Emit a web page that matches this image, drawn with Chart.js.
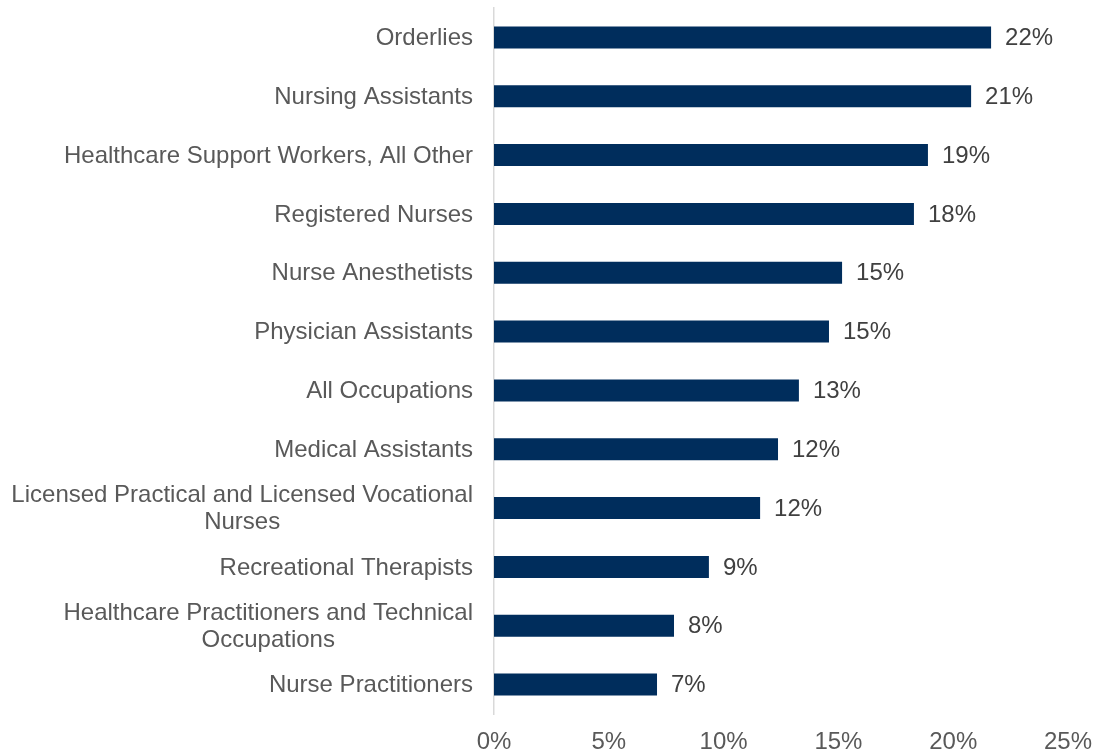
<!DOCTYPE html>
<html>
<head>
<meta charset="utf-8">
<script src="https://cdn.jsdelivr.net/npm/chart.js@4/dist/chart.umd.min.js"></script>
<style>
  html, body { margin: 0; padding: 0; background: #fff; }
  #wrap { width: 1094px; height: 755px; position: relative; }
</style>
</head>
<body>
<div id="wrap"><canvas id="chart"></canvas></div>
<script>
// Occupations (top to bottom) and projected growth in percent
const occupations = [
  'Orderlies',
  'Nursing Assistants',
  'Healthcare Support Workers, All Other',
  'Registered Nurses',
  'Nurse Anesthetists',
  'Physician Assistants',
  'All Occupations',
  'Medical Assistants',
  ['Licensed Practical and Licensed Vocational', 'Nurses'],
  'Recreational Therapists',
  ['Healthcare Practitioners and Technical', 'Occupations'],
  'Nurse Practitioners'
];
const growth = [21.65, 20.78, 18.9, 18.29, 15.16, 14.59, 13.28, 12.37, 11.59, 9.36, 7.84, 7.1];
const xTicks = [0, 5, 10, 15, 20, 25];

const BAR_COLOR = '#002d5c';
const TEXT_COLOR = '#595959';
const FONT = 'Liberation Sans, Arial, sans-serif';

// Category labels: right edge at a fixed gap from the axis,
// wrapped labels have their lines centred like in Excel
const categoryLabels = {
  id: 'categoryLabels',
  afterDraw(chart) {
    const ctx = chart.ctx;
    const yScale = chart.scales.y;
    const right = chart.chartArea.left - 21;
    const lineH = 27;
    ctx.save();
    ctx.font = '24px ' + FONT;
    ctx.fillStyle = TEXT_COLOR;
    ctx.textBaseline = 'middle';
    occupations.forEach((label, i) => {
      const y = yScale.getPixelForValue(i) + 1;
      const lines = Array.isArray(label) ? label : [label];
      const w = Math.max(...lines.map(l => ctx.measureText(l).width));
      const cx = right - w / 2;
      const top = y - (lines.length - 1) * lineH / 2;
      ctx.textAlign = lines.length > 1 ? 'center' : 'right';
      lines.forEach((l, j) => {
        ctx.fillText(l, lines.length > 1 ? cx : right, top + j * lineH);
      });
    });
    ctx.restore();
  }
};

// Draws the value label just past the end of each bar
const valueLabels = {
  id: 'valueLabels',
  afterDatasetsDraw(chart) {
    const ctx = chart.ctx;
    const meta = chart.getDatasetMeta(0);
    ctx.save();
    ctx.font = '24px ' + FONT;
    ctx.fillStyle = '#404040';
    ctx.textAlign = 'left';
    ctx.textBaseline = 'middle';
    meta.data.forEach((bar, i) => {
      ctx.fillText(Math.round(growth[i]) + '%', bar.x + 14, bar.y + 1);
    });
    ctx.restore();
  }
};

new Chart(document.getElementById('chart'), {
  type: 'bar',
  data: {
    labels: occupations,
    datasets: [{
      data: growth,
      backgroundColor: BAR_COLOR,
      borderWidth: 0,
      barPercentage: 0.75,
      categoryPercentage: 0.5
    }]
  },
  options: {
    indexAxis: 'y',
    responsive: true,
    maintainAspectRatio: false,
    animation: false,
    layout: { padding: { top: 8, right: 26, bottom: 0, left: 0 } },
    plugins: {
      legend: { display: false },
      tooltip: { enabled: false }
    },
    scales: {
      x: {
        min: 0,
        max: 25,
        afterBuildTicks: (axis) => { axis.ticks = xTicks.map(v => ({ value: v })); },
        afterFit: (axis) => {
          axis.height = 41;
          axis.paddingLeft = 0;
          axis.paddingRight = 0;
        },
        grid: { display: false, drawTicks: false },
        border: { display: false },
        ticks: {
          padding: 14,
          color: TEXT_COLOR,
          font: { family: FONT, size: 24, lineHeight: 1.2 },
          maxRotation: 0,
          callback: (v) => v + '%'
        }
      },
      y: {
        afterFit: (axis) => {
          axis.width = 494;
          axis.paddingTop = 0;
          axis.paddingBottom = 0;
        },
        grid: { display: false, drawTicks: false },
        border: { display: true, color: '#d9d9d9', width: 1.5 },
        ticks: { display: false }
      }
    }
  },
  plugins: [valueLabels, categoryLabels]
});
</script>
</body>
</html>
